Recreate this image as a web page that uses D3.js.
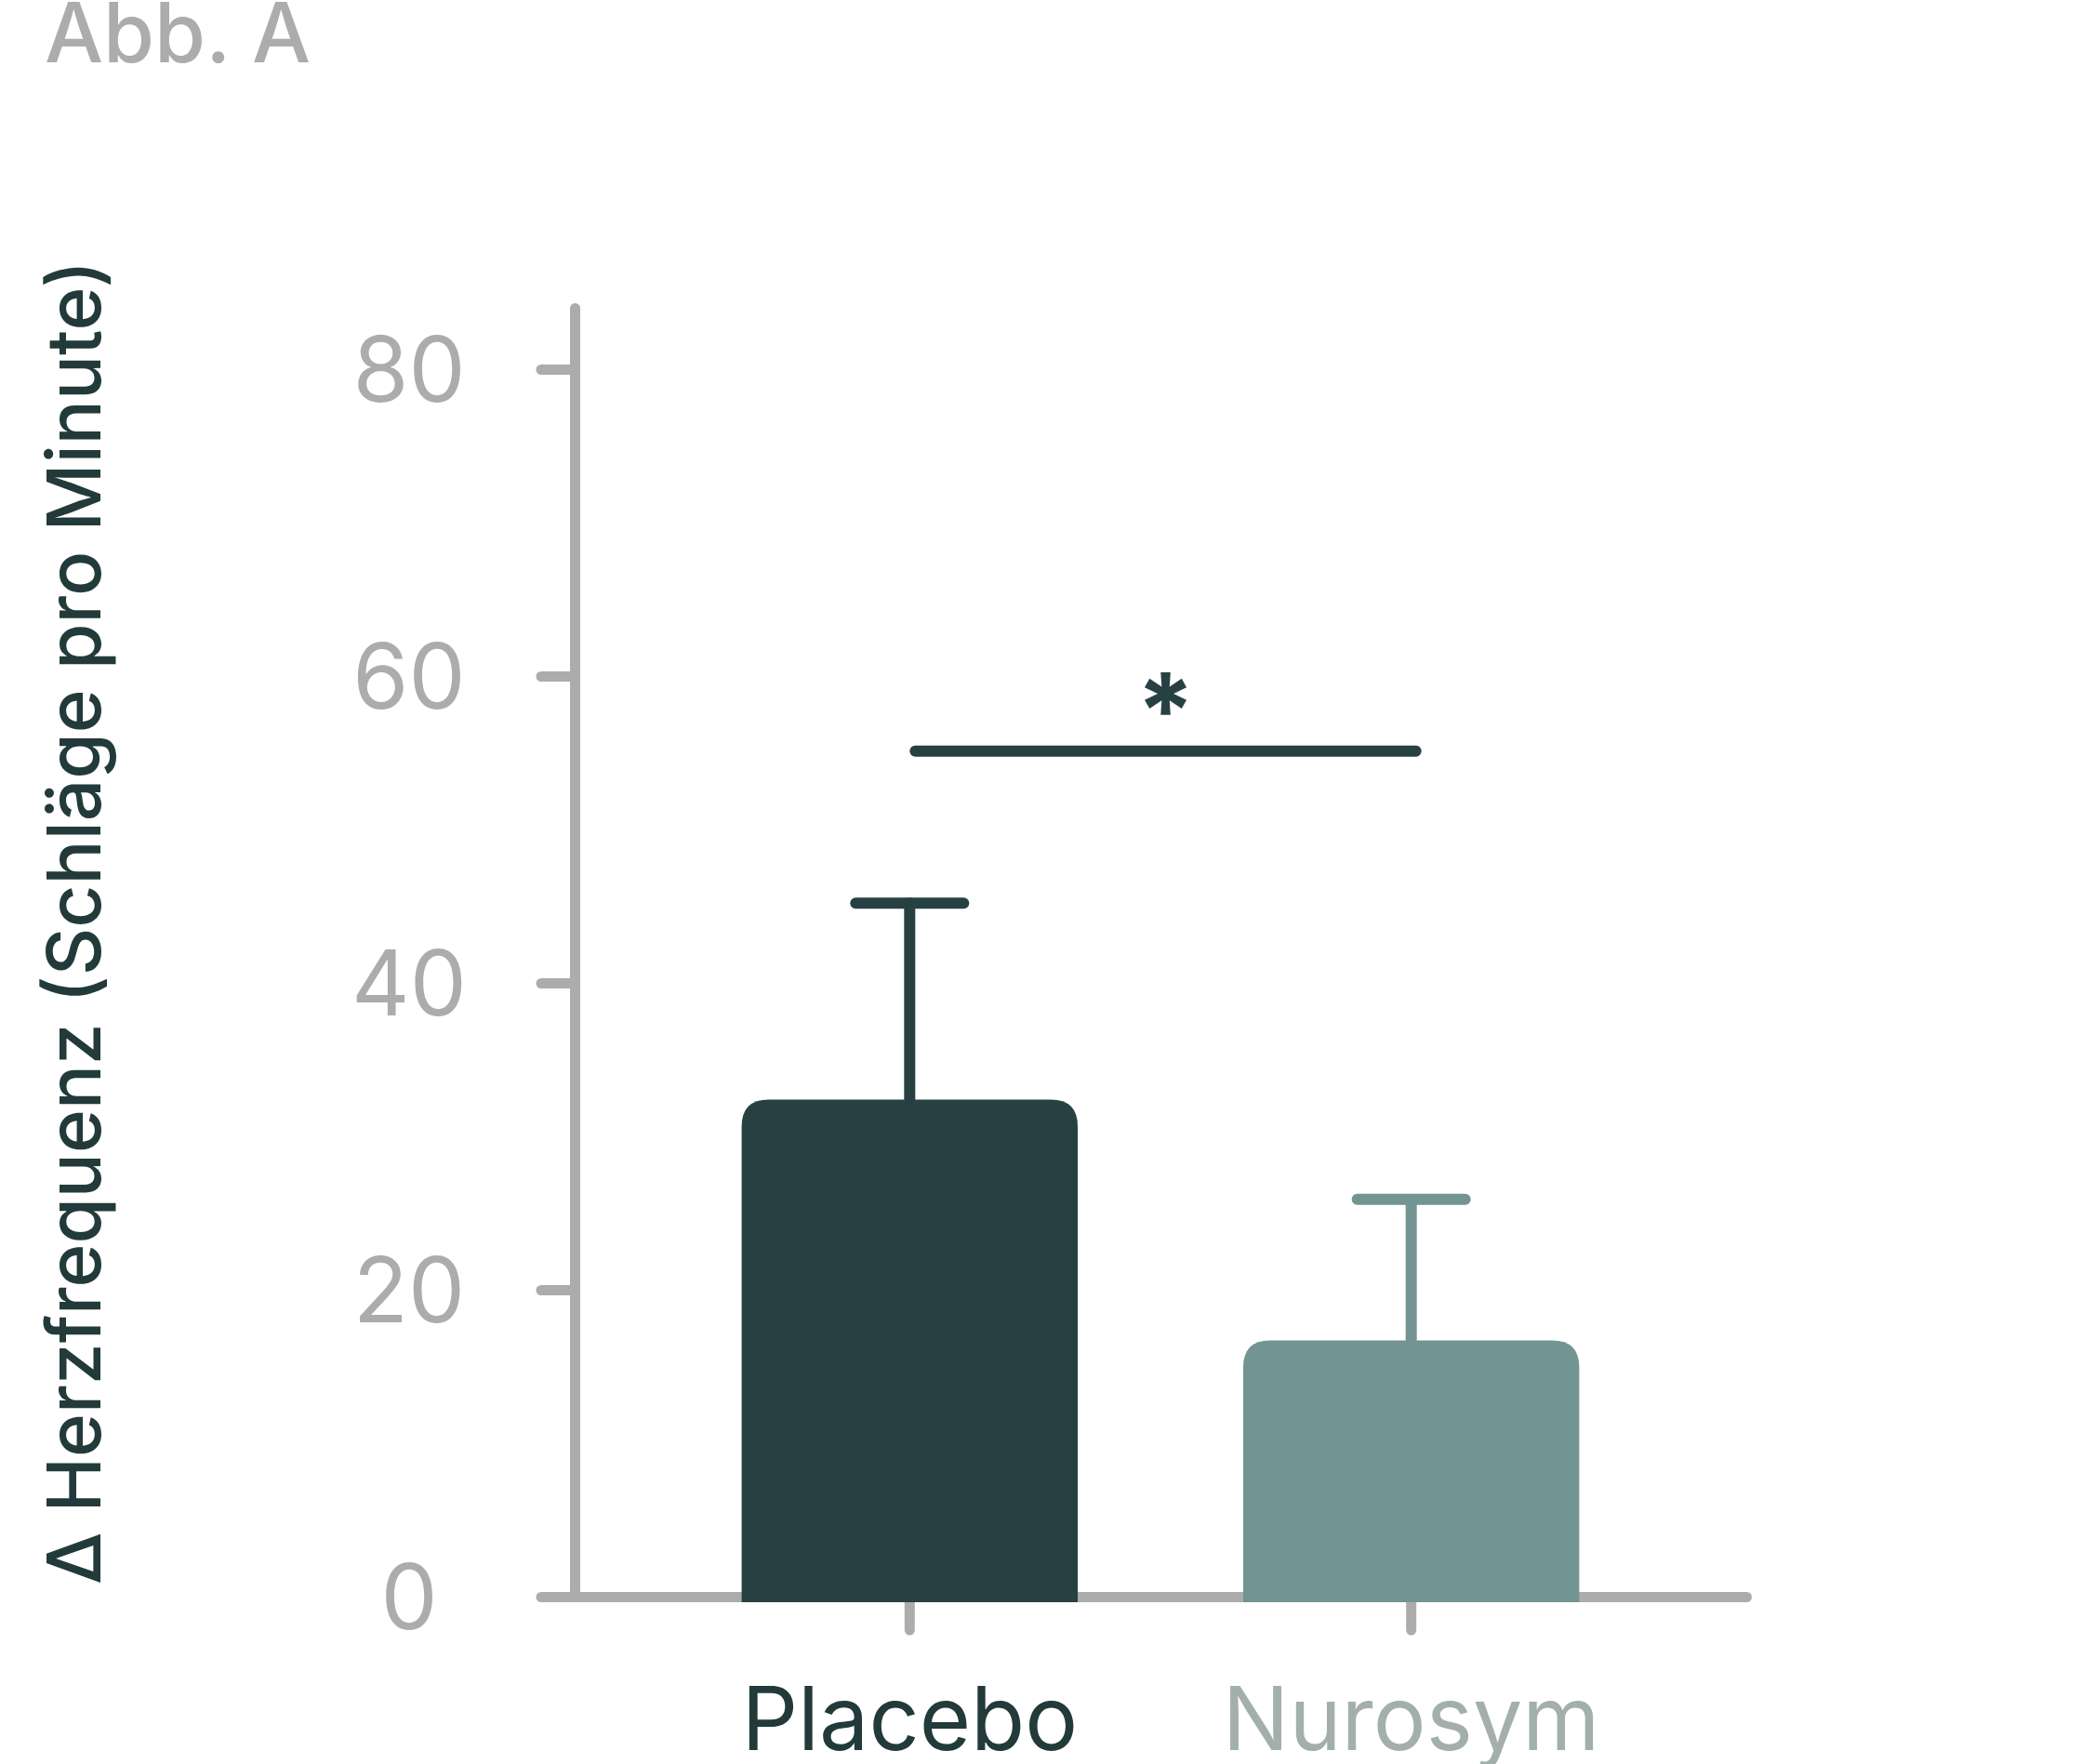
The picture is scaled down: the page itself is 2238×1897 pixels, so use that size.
<!DOCTYPE html>
<html>
<head>
<meta charset="utf-8">
<script src="https://cdn.jsdelivr.net/npm/d3@7"></script>
<style>
  body { margin: 0; background: #fff; }
  svg { display: block; font-family: Inter, "Noto Sans", sans-serif; }
</style>
</head>
<body>
<script>
// values (change in heart rate, beats per minute)
var categories = ["Placebo", "Nurosym"];
var means = [32.4, 16.7];
var errUp = [12.8, 9.2];
var yTicks = [0, 20, 40, 60, 80];
var sigPair = ["Placebo", "Nurosym"];
var sigLevel = 55.1;
var sigLabel = "*";

var barColor = {"Placebo": "#274143", "Nurosym": "#729492"};
var labelColor = {"Placebo": "#233a3b", "Nurosym": "#a3afac"};
var grey = "#acacac";

var width = 2238,
    height = 1897;

var svg = d3.select("body").append("svg")
    .attr("width", width)
    .attr("height", height);

var y = d3.scaleLinear().domain([0, 84]).range([1717, 331]);

var x = d3.scaleBand()
    .domain(categories)
    .range([618, 1878])
    .paddingInner(0.33)
    .paddingOuter(0.333);

// title
svg.append("text")
    .attr("x", 48)
    .attr("y", 67)
    .attr("font-size", 89)
    .attr("font-weight", 500)
    .attr("fill", grey)
    .text("Abb. A");

// y axis
var yAxis = svg.append("g")
    .attr("transform", "translate(618,0)")
    .call(d3.axisLeft(y).tickValues(yTicks).tickSize(36).tickSizeOuter(0));

yAxis.select(".domain")
    .attr("stroke", grey)
    .attr("stroke-width", 11)
    .attr("stroke-linecap", "round");

yAxis.selectAll(".tick line")
    .attr("stroke", grey)
    .attr("stroke-width", 11)
    .attr("stroke-linecap", "round");

yAxis.selectAll(".tick text")
    .attr("x", -178)
    .attr("dy", "0.36em")
    .attr("text-anchor", "middle")
    .attr("font-size", 97)
    .attr("font-family", "Inter, sans-serif")
    .attr("fill", grey);

// x axis
var xAxis = svg.append("g")
    .attr("transform", "translate(0," + y(0) + ")")
    .call(d3.axisBottom(x).tickSize(36).tickSizeOuter(0));

xAxis.select(".domain")
    .attr("stroke", grey)
    .attr("stroke-width", 11)
    .attr("stroke-linecap", "round");

xAxis.selectAll(".tick line")
    .attr("stroke", grey)
    .attr("stroke-width", 11)
    .attr("stroke-linecap", "round");

xAxis.selectAll(".tick text")
    .attr("y", 165)
    .attr("dy", 0)
    .attr("font-size", 95)
    .attr("font-family", "Inter, sans-serif")
    .attr("fill", function(d) { return labelColor[d]; });

// y axis title
svg.append("text")
    .attr("transform", "translate(108," + 992 + ") rotate(-90)")
    .attr("text-anchor", "middle")
    .attr("font-size", 80)
    .attr("font-weight", 500)
    .attr("fill", "#233a3b")
    .text("\u0394 Herzfrequenz (Schl\u00e4ge pro Minute)");

var data = categories.map(function(c, i) {
    return {name: c, mean: means[i], err: errUp[i]};
});

// error bars (behind the bars)
var err = svg.append("g").selectAll("g")
    .data(data)
    .enter().append("g")
    .attr("stroke", function(d) { return barColor[d.name]; })
    .attr("stroke-width", 12)
    .attr("stroke-linecap", "round");

err.append("line")
    .attr("x1", function(d) { return x(d.name) + x.bandwidth() / 2; })
    .attr("x2", function(d) { return x(d.name) + x.bandwidth() / 2; })
    .attr("y1", function(d) { return y(d.mean) + 10; })
    .attr("y2", function(d) { return y(d.mean + d.err); });

err.append("line")
    .attr("x1", function(d) { return x(d.name) + x.bandwidth() / 2 - 58; })
    .attr("x2", function(d) { return x(d.name) + x.bandwidth() / 2 + 58; })
    .attr("y1", function(d) { return y(d.mean + d.err); })
    .attr("y2", function(d) { return y(d.mean + d.err); });

// bars with rounded top corners
var r = 29;
function barPath(d) {
    var x0 = x(d.name),
        x1 = x0 + x.bandwidth(),
        top = y(d.mean),
        bot = y(0) + 6;
    return "M" + x0 + "," + bot +
        "V" + (top + r) +
        "Q" + x0 + "," + top + " " + (x0 + r) + "," + top +
        "H" + (x1 - r) +
        "Q" + x1 + "," + top + " " + x1 + "," + (top + r) +
        "V" + bot + "Z";
}

svg.append("g").selectAll("path")
    .data(data)
    .enter().append("path")
    .attr("d", barPath)
    .attr("fill", function(d) { return barColor[d.name]; });

// significance line and star
var sx1 = x(sigPair[0]) + x.bandwidth() / 2 + 6,
    sx2 = x(sigPair[1]) + x.bandwidth() / 2 + 5;

svg.append("line")
    .attr("x1", sx1)
    .attr("x2", sx2)
    .attr("y1", y(sigLevel))
    .attr("y2", y(sigLevel))
    .attr("stroke", "#274143")
    .attr("stroke-width", 12)
    .attr("stroke-linecap", "round");

svg.append("text")
    .attr("x", (sx1 + sx2) / 2)
    .attr("y", y(sigLevel) - 4)
    .attr("text-anchor", "middle")
    .attr("font-size", 112)
    .attr("font-weight", 700)
    .attr("fill", "#274143")
    .text(sigLabel);
</script>
</body>
</html>
